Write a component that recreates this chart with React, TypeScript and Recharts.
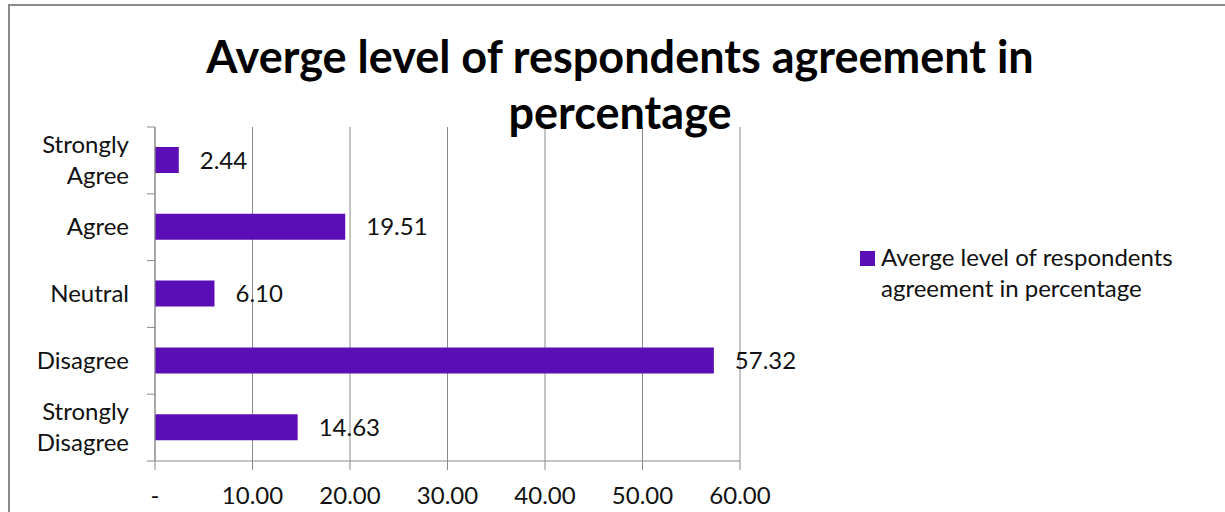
import { BarChart, Bar, XAxis, YAxis, CartesianGrid, LabelList } from 'recharts';

const categories = ['Strongly Agree', 'Agree', 'Neutral', 'Disagree', 'Strongly Disagree'];
const agreementValues = [2.44, 19.51, 6.1, 57.32, 14.63];
const xTicks = [0, 10, 20, 30, 40, 50, 60];
const titleLines = ['Averge level of respondents agreement in', 'percentage'];
const legendLines = ['Averge level of respondents', 'agreement in percentage'];

const FONT = 'Lato, Calibri, sans-serif';
const GRID = '#8a8a8a';
const BAR = '#5B0EB5';
const TEXT = '#111';
const FS = 24;

const W = 1225;
const H = 512;
const AXIS_X = 155;
const PLOT_TOP = 127;
const PLOT_BOTTOM = 461;
const BAND = (PLOT_BOTTOM - PLOT_TOP) / categories.length;

const data = categories.map((name, i) => ({ name, value: agreementValues[i] }));

function CategoryTick(props: any) {
  const { y, payload, index } = props;
  const label = String(payload.value);
  const lines = label.includes(' ') ? label.split(' ') : [label];
  const lh = 31;
  const first = 8 - ((lines.length - 1) * lh) / 2;
  return (
    <g>
      <line x1={AXIS_X - 8} x2={AXIS_X} y1={y - BAND / 2} y2={y - BAND / 2} stroke={GRID} />
      {index === categories.length - 1 && (
        <line x1={AXIS_X - 8} x2={AXIS_X} y1={y + BAND / 2} y2={y + BAND / 2} stroke={GRID} />
      )}
      <text x={129} y={y} textAnchor="end" fontSize={FS} fill={TEXT} fontFamily={FONT}>
        {lines.map((l, i) => (
          <tspan key={l} x={129} dy={i === 0 ? first : lh}>
            {l}
          </tspan>
        ))}
      </text>
    </g>
  );
}

export default function App() {
  return (
    <div style={{ position: 'relative', width: W, height: H, overflow: 'hidden', background: '#fff' }}>
      <style>{'body{margin:0}'}</style>
      <div
        style={{
          position: 'absolute',
          left: 8,
          top: 4,
          width: 1400,
          height: 700,
          borderTop: `2px solid ${GRID}`,
          borderLeft: `2px solid ${GRID}`,
        }}
      />
      <BarChart
        width={W}
        height={H}
        data={data}
        layout="vertical"
        margin={{ top: PLOT_TOP, right: W - 740, bottom: 0, left: 0 }}
        barCategoryGap={0}
      >
        <CartesianGrid horizontal={false} stroke={GRID} />
        <XAxis
          type="number"
          domain={[0, 60]}
          ticks={xTicks}
          height={H - PLOT_BOTTOM}
          tickSize={9}
          tickMargin={17}
          stroke={GRID}
          tick={{ fontSize: FS, fill: TEXT, fontFamily: FONT }}
          tickFormatter={(v: number) => (v === 0 ? '-' : v.toFixed(2))}
        />
        <YAxis
          type="category"
          dataKey="name"
          width={AXIS_X}
          stroke={GRID}
          tickLine={false}
          tick={<CategoryTick />}
          interval={0}
        />
        <Bar dataKey="value" fill={BAR} barSize={26} isAnimationActive={false}>
          <LabelList
            dataKey="value"
            position="right"
            offset={21}
            formatter={(v: any) => Number(v).toFixed(2)}
            style={{ fontSize: FS, fill: TEXT, fontFamily: FONT }}
          />
        </Bar>
      </BarChart>
      <svg width={W} height={H} style={{ position: 'absolute', left: 0, top: 0, pointerEvents: 'none' }}>
        {titleLines.map((t, i) => (
          <text
            key={t}
            x={620}
            y={73 + i * 56}
            textAnchor="middle"
            fontSize={45}
            fontWeight="bold"
            fontFamily={FONT}
            fill="#000"
          >
            {t}
          </text>
        ))}
        <rect x={860} y={251} width={15} height={15} fill={BAR} />
        {legendLines.map((t, i) => (
          <text key={t} x={881} y={266 + i * 31} fontSize={FS} fontFamily={FONT} fill={TEXT}>
            {t}
          </text>
        ))}
      </svg>
    </div>
  );
}
